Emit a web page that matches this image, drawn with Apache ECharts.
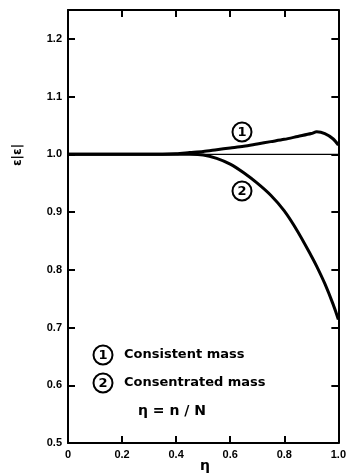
<!DOCTYPE html>
<html>
<head>
<meta charset="utf-8">
<script src="https://cdn.jsdelivr.net/npm/echarts@6/dist/echarts.min.js"></script>
<style>html,body{margin:0;padding:0;background:#fff;}#c{width:349px;height:474px;}</style>
</head>
<body>
<div id="c"></div>
<script>
var eta =        [0, 0.1, 0.2, 0.3, 0.4, 0.45, 0.5, 0.55, 0.6, 0.65, 0.7, 0.75, 0.8, 0.85, 0.9, 0.92, 0.95, 0.98, 1.0];
var consistent = [1.0, 1.0, 1.0, 1.0, 1.001, 1.003, 1.005, 1.008, 1.011, 1.014, 1.018, 1.022, 1.026, 1.031, 1.036, 1.039, 1.036, 1.027, 1.016];
var lumped =     [1.0, 1.0, 1.0, 1.0, 1.0, 1.0, 0.999, 0.993, 0.983, 0.968, 0.950, 0.929, 0.902, 0.866, 0.824, 0.806, 0.776, 0.741, 0.714];
var refLine = [[0, 1.0], [1.0, 1.0]];
var xTicks = [0, 0.2, 0.4, 0.6, 0.8, 1.0];
var yTicks = [0.5, 0.6, 0.7, 0.8, 0.9, 1.0, 1.1, 1.2];
var legendNames = ['Consistent mass', 'Consentrated mass'];

function pairs(xs, ys){ return xs.map(function(x,i){ return [x, ys[i]]; }); }

var chart = echarts.init(document.getElementById('c'));
var font = 'Liberation Sans, Arial, sans-serif';
var dfont = 'DejaVu Sans, sans-serif';
var axisLine = {show:true, onZero:false, lineStyle:{color:'#000', width:2}};
var tick = {show:true, inside:true, length:7, lineStyle:{color:'#000', width:2}};

var gridLeft = 68, gridTop = 10, gridW = 276, gridH = 433;

function circled(cx, cy, label){
  return [
    {type:'circle', shape:{cx:cx, cy:cy, r:9.5}, style:{fill:'#fff', stroke:'#000', lineWidth:2}, z:10},
    {type:'text', x:cx, y:cy + 0.5, style:{text:label, font:'bold 13px '+dfont, fill:'#000', align:'center', verticalAlign:'middle'}, z:11}
  ];
}

var graphics = [].concat(
  circled(242, 132, '1'),
  circled(242, 191, '2'),
  circled(103, 355, '1'),
  circled(103, 383, '2'),
  [
    {type:'text', x:124, y:355, style:{text:legendNames[0], font:'bold 13px '+dfont, fill:'#000', verticalAlign:'middle'}},
    {type:'text', x:124, y:383, style:{text:legendNames[1], font:'bold 13px '+dfont, fill:'#000', verticalAlign:'middle'}},
    {type:'text', x:172, y:411, style:{text:'\u03b7 = n / N', font:'bold 14px '+dfont, fill:'#000', align:'center', verticalAlign:'middle'}},
    {type:'text', x:205, y:466, style:{text:'\u03b7', font:'bold 14px '+dfont, fill:'#000', align:'center', verticalAlign:'middle'}},
    {type:'text', x:18, y:155, rotation:Math.PI/2, style:{text:'\u03b5|\u03b5|', font:'bold 12px '+dfont, fill:'#000', align:'center', verticalAlign:'middle'}}
  ]
);

function fmt1(v){
  var ok = yTicks.some(function(t){ return Math.abs(t - v) < 1e-6; });
  return ok ? v.toFixed(1) : '';
}
function fmtX(v){
  var ok = xTicks.some(function(t){ return Math.abs(t - v) < 1e-6; });
  if (!ok) return '';
  return v === 0 ? '0' : v.toFixed(1);
}

chart.setOption({
  animation:false,
  backgroundColor:'#fff',
  grid:{left:gridLeft, top:gridTop, width:gridW, height:gridH, containLabel:false},
  xAxis:[
    {type:'value', min:0, max:1.0, interval:0.2, position:'bottom',
     axisLine:axisLine, axisTick:tick, splitLine:{show:false},
     axisLabel:{color:'#000', fontSize:11, fontWeight:'bold', fontFamily:font, margin:6, formatter:fmtX}},
    {type:'value', min:0, max:1.0, interval:0.2, position:'top',
     axisLine:axisLine, axisTick:tick, splitLine:{show:false}, axisLabel:{show:false}}
  ],
  yAxis:[
    {type:'value', min:0.5, max:1.25, interval:0.1, position:'left',
     axisLine:axisLine, axisTick:tick, splitLine:{show:false},
     axisLabel:{color:'#000', fontSize:11, fontWeight:'bold', fontFamily:font, margin:6, formatter:fmt1}},
    {type:'value', min:0.5, max:1.25, interval:0.1, position:'right',
     axisLine:axisLine, axisTick:tick, splitLine:{show:false}, axisLabel:{show:false}}
  ],
  series:[
    {type:'line', data:refLine, symbol:'none', lineStyle:{color:'#000', width:1.2}, silent:true},
    {type:'line', name:legendNames[0], data:pairs(eta, consistent), symbol:'none', smooth:0.3, lineStyle:{color:'#000', width:3}},
    {type:'line', name:legendNames[1], data:pairs(eta, lumped), symbol:'none', smooth:0.3, lineStyle:{color:'#000', width:3}}
  ],
  graphic:graphics
});
</script>
</body>
</html>
